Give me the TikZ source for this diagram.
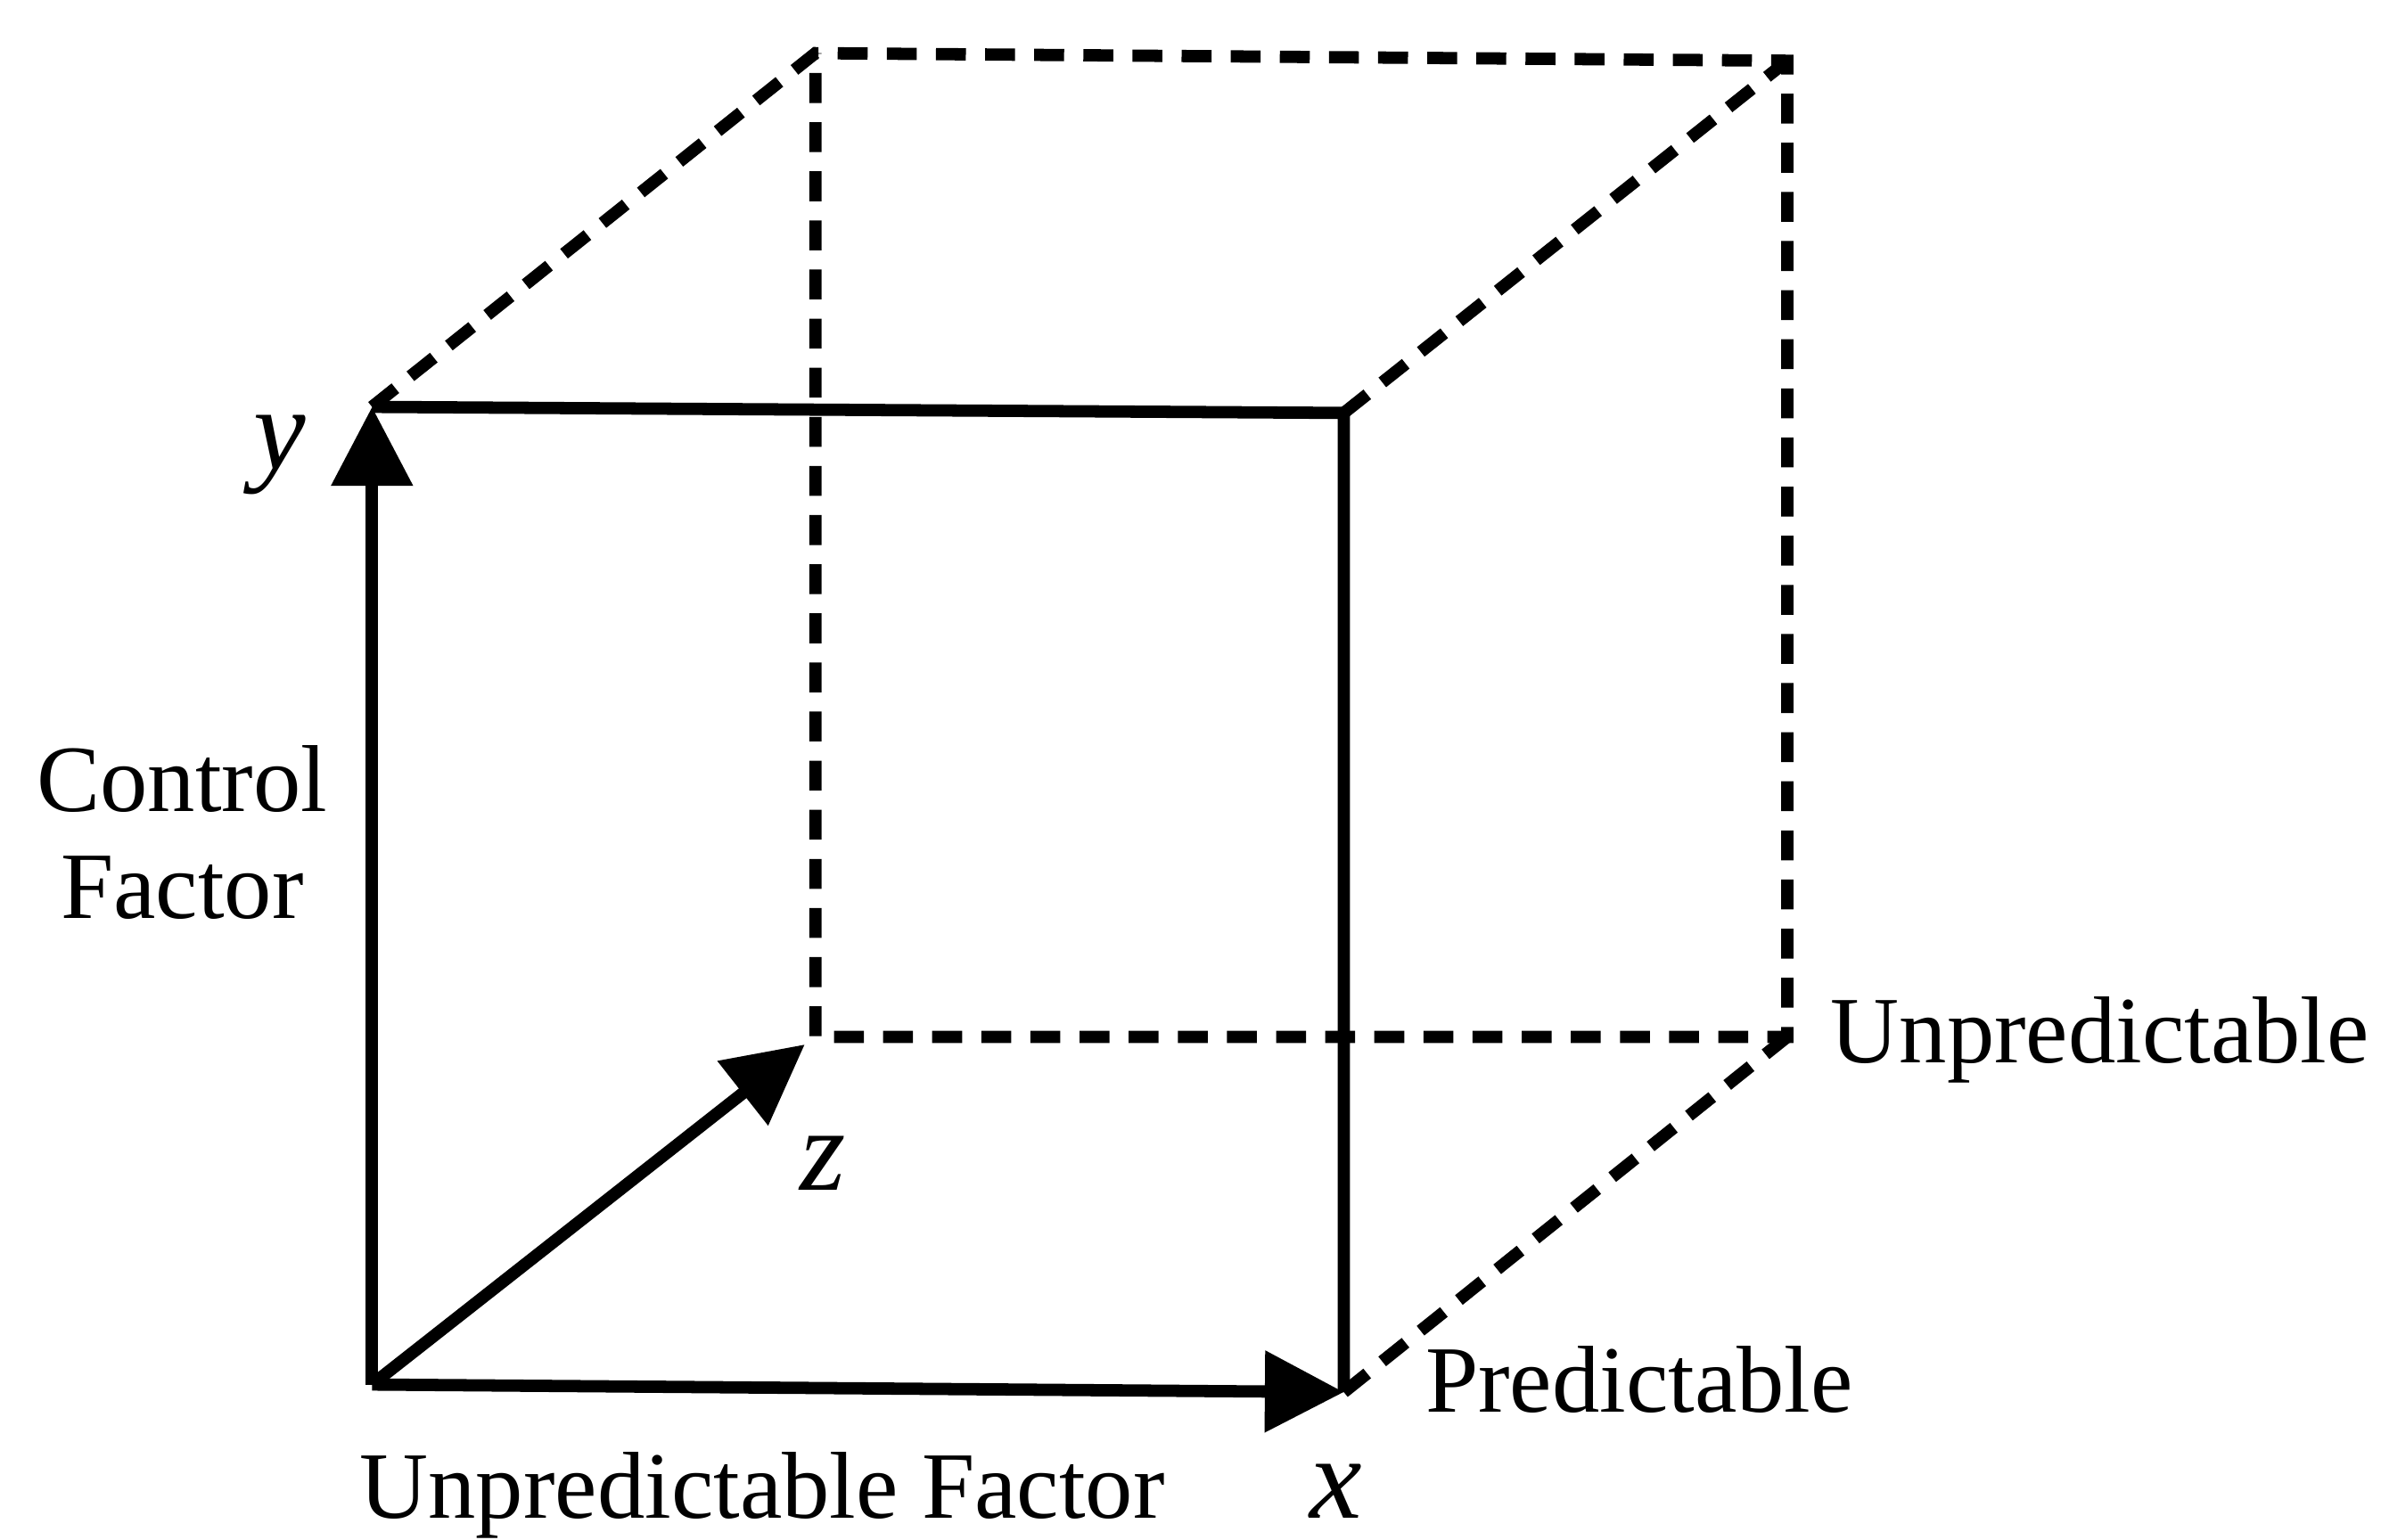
\documentclass[tikz,border=0pt]{standalone}
\usepackage{fontspec}
\setmainfont{Liberation Serif}
\usetikzlibrary{arrows.meta,positioning}

\begin{document}
\begin{tikzpicture}[
    x=0.01cm, y=-0.01cm,
    edge/.style={line width=2.3pt},
    backedge/.style={line width=2.3pt, dash pattern=on 5.6pt off 3.6pt},
    axisarr/.style={edge, -{Triangle[length=5.2mm, width=5.2mm]}},
    lbl/.style={font=\fontsize{17.8}{20}\selectfont, inner sep=0pt},
    axlbl/.style={font=\fontsize{22}{24}\selectfont\itshape, inner sep=0pt},
    >=Stealth
]
    \useasboundingbox (0,0) rectangle (1568,1014);

    % Cube corners
    \coordinate (o) at (245,912);
    \coordinate (xend) at (885,917);
    \coordinate (yend) at (245,268);
    \coordinate (ftr) at (885,272);
    \coordinate (btl) at (537,35);
    \coordinate (btr) at (1177,40);
    \coordinate (bbl) at (537,683);
    \coordinate (bbr) at (1177,683);
    \coordinate (zend) at (530,688);

    % Hidden edges
    \draw[backedge] (yend) -- (btl) -- (btr) -- (bbr) -- (bbl) -- (btl);
    \draw[backedge] (ftr) -- (btr);
    \draw[backedge] (xend) -- (bbr);

    % Front face
    \draw[edge] (yend) -- (ftr) -- (xend);

    % Axes
    \draw[axisarr] (o) -- (yend);
    \draw[axisarr] (o) -- (xend);
    \draw[axisarr] (o) -- (zend);

    % Labels
    \node[axlbl, anchor=base] (ylbl) at (184,309) {y};
    \node[axlbl, anchor=base] (zlbl) at (542,784) {z};
    \node[axlbl, anchor=base] (xlbl) at (880,1000) {x};
    \node[lbl, align=center, anchor=base] (ctrl) at (120,605) {Control\\Factor};
    \node[lbl, anchor=base west] (unpr) at (1205,700) {Unpredictable};
    \node[lbl, anchor=base west] (pred) at (938,930) {Predictable};
    \node[lbl, anchor=base] (unfac) at (502,1000) {Unpredictable Factor};
\end{tikzpicture}
\end{document}
